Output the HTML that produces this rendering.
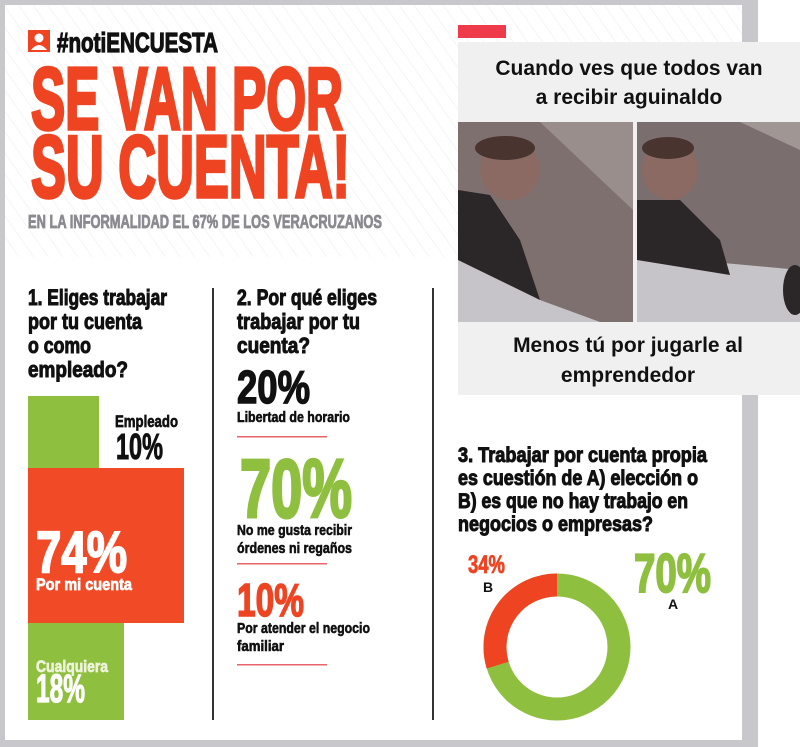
<!DOCTYPE html>
<html><head><meta charset="utf-8"><style>
html,body{margin:0;padding:0;background:#fff;}
svg{display:block;}
text{font-family:"Liberation Sans Narrow","Liberation Sans",sans-serif;font-weight:bold;}
.m{font-family:"Liberation Sans",sans-serif;font-weight:bold;}
</style></head><body>
<svg width="800" height="747" viewBox="0 0 800 747" xmlns="http://www.w3.org/2000/svg">
<defs>
<pattern id="st" width="12" height="12" patternUnits="userSpaceOnUse" patternTransform="rotate(-35)">
<rect width="12" height="12" fill="#fff"/><line x1="0" y1="0" x2="0" y2="12" stroke="#ebebed" stroke-width="1"/>
</pattern>
</defs>
<rect width="800" height="747" fill="#fff"/>
<rect x="0" y="0" width="758" height="747" fill="#c8c8cc"/>
<rect x="5" y="5" width="737" height="735" fill="#fff"/>
<rect x="5" y="5" width="737" height="252" fill="url(#st)"/>
<rect x="28" y="30" width="22" height="22" fill="#ee4422"/>
<circle cx="39" cy="38" r="4.5" fill="#fff"/>
<path d="M31 50 q8 -10 16 0 z" fill="#fff"/>
<text x="57" y="52" font-size="28" textLength="161" lengthAdjust="spacingAndGlyphs" fill="#111" stroke="#111" stroke-width="1.2">#notiENCUESTA</text>
<g fill="#ee4422" stroke="#ee4422" stroke-width="3.5">
<text x="31" y="129" font-size="88" textLength="312" lengthAdjust="spacingAndGlyphs">SE VAN POR</text>
<text x="31" y="197" font-size="88" textLength="319" lengthAdjust="spacingAndGlyphs">SU CUENTA!</text>
</g>
<text x="28" y="228" font-size="18" textLength="354" lengthAdjust="spacingAndGlyphs" fill="#8a8a90" stroke="#8a8a90" stroke-width="0.8">EN LA INFORMALIDAD EL 67% DE LOS VERACRUZANOS</text>
<rect x="212" y="288" width="2" height="432" fill="#333"/>
<rect x="432" y="288" width="2" height="432" fill="#333"/>
<g font-size="22" fill="#111" stroke="#111" stroke-width="1">
<text x="28" y="305" textLength="139" lengthAdjust="spacingAndGlyphs">1. Eliges trabajar</text>
<text x="28" y="329" textLength="114" lengthAdjust="spacingAndGlyphs">por tu cuenta</text>
<text x="28" y="353" textLength="63" lengthAdjust="spacingAndGlyphs">o como</text>
<text x="28" y="377" textLength="100" lengthAdjust="spacingAndGlyphs">empleado?</text>
</g>
<rect x="28" y="396" width="71" height="74" fill="#8fbf3f"/>
<rect x="28" y="623" width="96" height="97" fill="#8fbf3f"/>
<rect x="28" y="468" width="156" height="155" fill="#f04a26"/>
<text x="115" y="427" font-size="17" textLength="63" lengthAdjust="spacingAndGlyphs" fill="#111" stroke="#111" stroke-width="0.7">Empleado</text>
<text x="116" y="459" font-size="36" textLength="47" lengthAdjust="spacingAndGlyphs" fill="#111" stroke="#111" stroke-width="1">10%</text>
<text x="36" y="572" font-size="58" textLength="91" lengthAdjust="spacingAndGlyphs" fill="#fff" stroke="#fff" stroke-width="2">74%</text>
<text x="36" y="590" font-size="17" textLength="96" lengthAdjust="spacingAndGlyphs" fill="#fff" stroke="#fff" stroke-width="0.7">Por mi cuenta</text>
<text x="36" y="672" font-size="17" textLength="72" lengthAdjust="spacingAndGlyphs" fill="#eef3dc" stroke="#eef3dc" stroke-width="0.7">Cualquiera</text>
<text x="36" y="702" font-size="40" textLength="49" lengthAdjust="spacingAndGlyphs" fill="#fff" stroke="#fff" stroke-width="1.2">18%</text>
<g font-size="22" fill="#111" stroke="#111" stroke-width="1">
<text x="237" y="305" textLength="140" lengthAdjust="spacingAndGlyphs">2. Por qué eliges</text>
<text x="237" y="329" textLength="123" lengthAdjust="spacingAndGlyphs">trabajar por tu</text>
<text x="237" y="353" textLength="73" lengthAdjust="spacingAndGlyphs">cuenta?</text>
</g>
<text x="237" y="403" font-size="46" textLength="73" lengthAdjust="spacingAndGlyphs" fill="#111" stroke="#111" stroke-width="1.5">20%</text>
<text x="237" y="422" font-size="15" textLength="113" lengthAdjust="spacingAndGlyphs" fill="#111" stroke="#111" stroke-width="0.6">Libertad de horario</text>
<rect x="237" y="436" width="90" height="1.5" fill="#e8646a"/>
<text x="240" y="517" font-size="83" textLength="112" lengthAdjust="spacingAndGlyphs" fill="#8fbf3f" stroke="#8fbf3f" stroke-width="3">70%</text>
<text x="237" y="535" font-size="15" textLength="115" lengthAdjust="spacingAndGlyphs" fill="#111" stroke="#111" stroke-width="0.6">No me gusta recibir</text>
<text x="237" y="553" font-size="15" textLength="115" lengthAdjust="spacingAndGlyphs" fill="#111" stroke="#111" stroke-width="0.6">órdenes ni regaños</text>
<rect x="237" y="563" width="90" height="1.5" fill="#e8646a"/>
<text x="237" y="616" font-size="46" textLength="67" lengthAdjust="spacingAndGlyphs" fill="#ee4422" stroke="#ee4422" stroke-width="1.5">10%</text>
<text x="237" y="633" font-size="15" textLength="133" lengthAdjust="spacingAndGlyphs" fill="#111" stroke="#111" stroke-width="0.6">Por atender el negocio</text>
<text x="237" y="651" font-size="15" textLength="47" lengthAdjust="spacingAndGlyphs" fill="#111" stroke="#111" stroke-width="0.6">familiar</text>
<rect x="237" y="664" width="90" height="1.5" fill="#e8646a"/>
<g font-size="21" fill="#111" stroke="#111" stroke-width="1">
<text x="458" y="462" textLength="249" lengthAdjust="spacingAndGlyphs">3. Trabajar por cuenta propia</text>
<text x="458" y="485" textLength="240" lengthAdjust="spacingAndGlyphs">es cuestión de A) elección o</text>
<text x="458" y="508" textLength="230" lengthAdjust="spacingAndGlyphs">B) es que no hay trabajo en</text>
<text x="458" y="531" textLength="195" lengthAdjust="spacingAndGlyphs">negocios o empresas?</text>
</g>
<text x="468" y="573" font-size="25" textLength="37" lengthAdjust="spacingAndGlyphs" fill="#ee4422" stroke="#ee4422" stroke-width="0.8">34%</text>
<text x="483" y="592" font-size="14" fill="#111">B</text>
<text x="634" y="592" font-size="55" textLength="77" lengthAdjust="spacingAndGlyphs" fill="#8fbf3f" stroke="#8fbf3f" stroke-width="2">70%</text>
<text x="668" y="609" font-size="14" fill="#111">A</text>
<circle cx="557" cy="647" r="62" fill="none" stroke="#8fbf3f" stroke-width="23"/>
<path d="M557 585 A62 62 0 0 0 497.7 665.1" fill="none" stroke="#ee4422" stroke-width="23"/>
<rect x="458" y="25" width="48" height="13" fill="#ee3a4a"/>
<rect x="458" y="42" width="342" height="353" fill="#f0f0f0"/>
<text class="m" x="629" y="75" font-size="21" text-anchor="middle" fill="#111">Cuando ves que todos van</text>
<text class="m" x="629" y="104" font-size="21" text-anchor="middle" fill="#111">a recibir aguinaldo</text>
<g>
<rect x="458" y="122" width="175" height="200" fill="#7d706e"/>
<polygon points="540,122 633,122 633,210" fill="#9a8e8c"/>
<polygon points="458,255 540,300 600,322 458,322" fill="#c6c4c8"/>
<polygon points="458,190 490,195 520,240 540,300 458,260" fill="#2b2628"/>
<ellipse cx="510" cy="170" rx="30" ry="30" fill="#8a6a62"/>
<ellipse cx="505" cy="148" rx="30" ry="12" fill="#4a3430"/>
<rect x="637" y="122" width="163" height="200" fill="#7a6e6e"/>
<polygon points="740,122 800,122 800,150" fill="#a09694"/>
<polygon points="637,255 800,270 800,322 637,322" fill="#c6c4c8"/>
<polygon points="637,200 680,200 720,240 730,275 637,260" fill="#2b2628"/>
<ellipse cx="670" cy="170" rx="28" ry="30" fill="#8a6a62"/>
<ellipse cx="668" cy="148" rx="26" ry="11" fill="#4a3430"/>
<ellipse cx="795" cy="290" rx="12" ry="25" fill="#2b2628"/>
</g>
<text class="m" x="628" y="352" font-size="21" text-anchor="middle" fill="#111">Menos tú por jugarle al</text>
<text class="m" x="628" y="382" font-size="21" text-anchor="middle" fill="#111">emprendedor</text>
</svg>
</body></html>
